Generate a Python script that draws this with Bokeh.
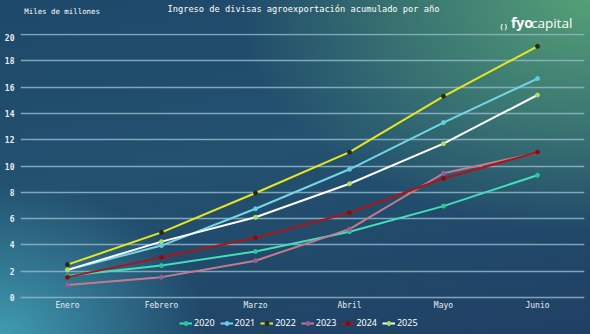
from bokeh.plotting import figure
from bokeh.layouts import column
from bokeh.models import Legend, LegendItem, Label, FixedTicker, Range1d
from bokeh.embed import file_html
from bokeh.resources import INLINE

months = ["Enero", "Febrero", "Marzo", "Abril", "Mayo", "Junio"]
years = ["2020", "2021", "2022", "2023", "2024", "2025"]
v2020 = [1.65, 2.43, 3.5, 5.0, 6.95, 9.3]
v2021 = [2.1, 3.95, 6.75, 9.75, 13.3, 16.65]
v2022 = [2.5, 4.95, 7.95, 11.05, 15.3, 19.1]
v2023 = [0.95, 1.55, 2.8, 5.2, 9.45, 11.0]
v2024 = [1.55, 3.05, 4.55, 6.45, 9.05, 11.05]
v2025 = [2.1, 4.25, 6.1, 8.65, 11.7, 15.4]
y_ticks = [0, 2, 4, 6, 8, 10, 12, 14, 16, 18, 20]

series = [v2020, v2021, v2022, v2023, v2024, v2025]
line_colors = ["#3fe0b8", "#72d6e6", "#e6e61e", "#c47c8c", "#a8161a", "#ffffff"]
marker_colors = ["#27c79f", "#5bcfe4", "#2a2a10", "#9a5c9a", "#8a0c10", "#a8e060"]

W = 590
HEAD_H = 33
LEG_H = 22
MAIN_H = 334 - HEAD_H - LEG_H

# ---------- header (title, unit note, logo) ----------
head = figure(width=W, height=HEAD_H, x_range=Range1d(0, W), y_range=Range1d(HEAD_H, 0),
              output_backend="svg", toolbar_location=None, x_axis_type=None, y_axis_type=None,
              min_border=0)
head.background_fill_color = None
head.border_fill_color = None
head.outline_line_color = None
head.grid.visible = False

head.add_layout(Label(x=296, y=8, text="Ingreso de divisas agroexportación acumulado por año",
                      text_font="DejaVu Sans Mono", text_font_size="8.7px", text_color="#ffffff",
                      text_align="center", text_baseline="middle"))
head.add_layout(Label(x=4, y=11, text="Miles de millones",
                      text_font="DejaVu Sans Mono", text_font_size="7.4px", text_color="#ffffff",
                      text_align="left", text_baseline="middle"))
head.add_layout(Label(x=513, y=22, text="fyo",
                      text_font="Open Sans", text_font_size="14px", text_font_style="bold",
                      text_color="#ffffff", text_align="left", text_baseline="middle"))
head.add_layout(Label(x=534, y=22, text="capital",
                      text_font="Open Sans", text_font_size="13.5px",
                      text_color="#ffffff", text_align="left", text_baseline="middle"))
head.add_layout(Label(x=502, y=26, text="( )",
                      text_font="Open Sans", text_font_size="7px", text_font_style="bold",
                      text_color="#ffffff", text_align="left", text_baseline="middle"))

# ---------- main chart ----------
PX_PER_UNIT = 265.5 / 20
Y_TOP = 20 + (34 - HEAD_H) / PX_PER_UNIT
FRAME_BOTTOM = 301
Y_BOT = -(FRAME_BOTTOM - 299) / PX_PER_UNIT

p = figure(width=W, height=MAIN_H, x_range=months, y_range=Range1d(Y_BOT, Y_TOP),
           output_backend="svg", toolbar_location=None,
           min_border_left=20, min_border_right=6, min_border_top=0,
           min_border_bottom=MAIN_H - (FRAME_BOTTOM - HEAD_H))
p.background_fill_color = None
p.border_fill_color = None
p.outline_line_color = None

p.xgrid.grid_line_color = None
p.ygrid.grid_line_color = "#90b6c8"
p.ygrid.grid_line_alpha = 0.85
p.ygrid.grid_line_width = 1.5
p.yaxis.ticker = FixedTicker(ticks=y_ticks)

for ax in (p.xaxis[0], p.yaxis[0]):
    ax.axis_line_color = None
    ax.major_tick_line_color = None
    ax.minor_tick_line_color = None
    ax.major_label_text_color = "#e8eef2"
    ax.major_label_text_font = "DejaVu Sans Mono"
    ax.major_tick_out = 0
    ax.major_tick_in = 0
p.yaxis.major_label_text_font_size = "8px"
p.yaxis.major_label_text_font_style = "bold"
p.yaxis.major_label_standoff = 6
p.xaxis.major_label_text_font_size = "8px"
p.xaxis.major_label_standoff = 1

for vals, lc, mc in zip(series, line_colors, marker_colors):
    p.line(months, vals, line_color=lc, line_width=2)
    p.scatter(months, vals, size=4, fill_color=mc, line_color=mc)

# ---------- legend strip ----------
leg = figure(width=W, height=LEG_H, x_range=months, y_range=Range1d(0, 20),
             output_backend="svg", toolbar_location=None, x_axis_type=None, y_axis_type=None,
             min_border=0)
leg.background_fill_color = None
leg.border_fill_color = None
leg.outline_line_color = None
leg.grid.visible = False

items = []
for yr, vals, lc, mc in zip(years, series, line_colors, marker_colors):
    r1 = leg.line(months, vals, line_color=lc, line_width=2, visible=False)
    r2 = leg.scatter(months, vals, size=4, fill_color=mc, line_color=mc, visible=False)
    items.append(LegendItem(label=yr, renderers=[r1, r2]))

legend = Legend(items=items, orientation="horizontal", location=(159, 5),
                background_fill_alpha=0, border_line_color=None,
                label_text_color="#ffffff", label_text_font="Noto Sans",
                label_text_font_size="9px", glyph_width=13, glyph_height=10,
                label_standoff=2, spacing=5, padding=0, margin=0,
                label_height=10, inactive_fill_alpha=0)
leg.add_layout(legend, "center")

layout = column(head, p, leg, spacing=0)
layout.styles = {"background": "radial-gradient(ellipse 60% 70% at 100% 0%, rgba(84,160,118,1) 0%, rgba(84,160,118,0) 100%), "
                               "radial-gradient(ellipse 35% 45% at 0% 100%, rgba(64,156,176,1) 0%, rgba(64,156,176,0) 100%), "
                               "linear-gradient(170deg, #1e4869 0%, #235170 45%, #1f4064 100%)"}

open("out.html", "w").write(file_html(layout, INLINE))
